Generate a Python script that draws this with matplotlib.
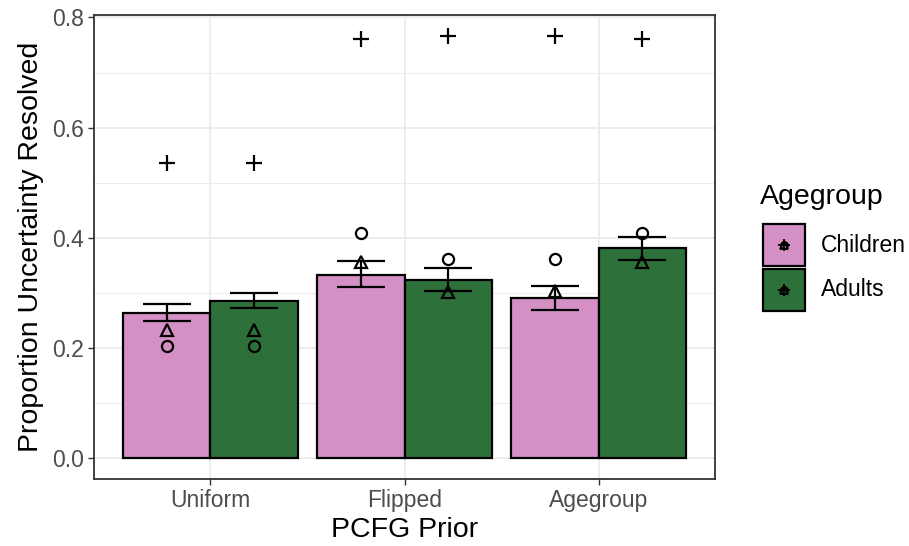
import numpy as np
import matplotlib
matplotlib.use("Agg")
from matplotlib import pyplot as plt
from matplotlib.patches import Rectangle
from matplotlib.ticker import MultipleLocator

plt.rcParams['font.family'] = ['Liberation Sans', 'DejaVu Sans']

# data
priors = ["Uniform", "Flipped", "Agegroup"]
groups = ["Children", "Adults"]
colors = ["#D490C5", "#2D703A"]

bar_mean = {"Children": [0.264, 0.333, 0.290], "Adults": [0.285, 0.324, 0.381]}
err_lo = {"Children": [0.249, 0.311, 0.268], "Adults": [0.273, 0.304, 0.359]}
err_hi = {"Children": [0.279, 0.357, 0.312], "Adults": [0.300, 0.345, 0.402]}
tri_val = {"Children": [0.232, 0.355, 0.303], "Adults": [0.232, 0.302, 0.356]}
circ_val = {"Children": [0.204, 0.408, 0.361], "Adults": [0.204, 0.361, 0.409]}
plus_val = {"Children": [0.536, 0.760, 0.766], "Adults": [0.536, 0.766, 0.760]}

fig = plt.figure(figsize=(9.09, 5.46), dpi=100)
ax = fig.add_axes([94/909, 1-479/546, (715-94)/909, (479-15)/546])

x = np.arange(1, len(priors) + 1)
w = 0.45
for i, g in enumerate(groups):
    xs = x + (i - 0.5) * w
    ax.bar(xs, bar_mean[g], width=w, color=colors[i], edgecolor="black",
           linewidth=1.6, zorder=3)
    lo = np.array(err_lo[g])
    hi = np.array(err_hi[g])
    ax.errorbar(xs, (lo + hi) / 2, yerr=(hi - lo) / 2, fmt="none", ecolor="black",
                elinewidth=1.6, capsize=17, capthick=1.6, zorder=4)
    ax.plot(xs, tri_val[g], ls="none", marker="^", ms=9, mfc="none", mec="black",
            mew=1.6, zorder=5)
    ax.plot(xs, circ_val[g], ls="none", marker="o", ms=8, mfc="none", mec="black",
            mew=1.6, zorder=5)
    ax.plot(xs, plus_val[g], ls="none", marker="+", ms=12, mec="black",
            mew=1.6, zorder=5)

ax.set_xlim(0.4, 3.6)
ax.set_ylim(-0.0383, 0.8045)
ax.set_xticks(x)
ax.set_xticklabels(priors)
ax.yaxis.set_major_locator(MultipleLocator(0.2))
ax.yaxis.set_minor_locator(MultipleLocator(0.1))
ax.set_yticklabels(["%.1f" % v for v in ax.get_yticks()])
ax.tick_params(axis="both", which="major", labelsize=16.5, labelcolor="#4D4D4D",
               color="#333333", length=4, width=1, pad=3)
ax.tick_params(axis="y", which="minor", length=0)
ax.grid(True, which="major", color="#EBEBEB", linewidth=1.3, zorder=0)
ax.grid(True, which="minor", axis="y", color="#EBEBEB", linewidth=0.7, zorder=0)
ax.set_axisbelow(True)
for s in ax.spines.values():
    s.set_color("#333333")
    s.set_linewidth(1.3)
ax.set_xlabel("PCFG Prior", fontsize=20.5, labelpad=4)
ax.set_ylabel("Proportion Uncertainty Resolved", fontsize=20.5, labelpad=6)

# legend drawn in pixel coordinates
lax = fig.add_axes([0, 0, 1, 1])
lax.set_xlim(0, 909)
lax.set_ylim(546, 0)
lax.axis("off")
lax.text(760, 197, "Agegroup", fontsize=20.5, va="center", ha="left")
for i, g in enumerate(groups):
    y0 = 224 + i * 45
    lax.add_patch(Rectangle((763, y0), 42, 42, facecolor=colors[i],
                            edgecolor="black", linewidth=1.6))
    cx, cy = 784, y0 + 21
    lax.plot([cx], [cy], marker="^", ms=6, mfc="none", mec="black", mew=1.3)
    lax.plot([cx], [cy], marker="o", ms=5, mfc="none", mec="black", mew=1.3)
    lax.plot([cx], [cy], marker="+", ms=8, mec="black", mew=1.3)
    lax.text(821, y0 + 21, g, fontsize=16.5, va="center", ha="left")

fig.savefig("out.png", dpi=100)
